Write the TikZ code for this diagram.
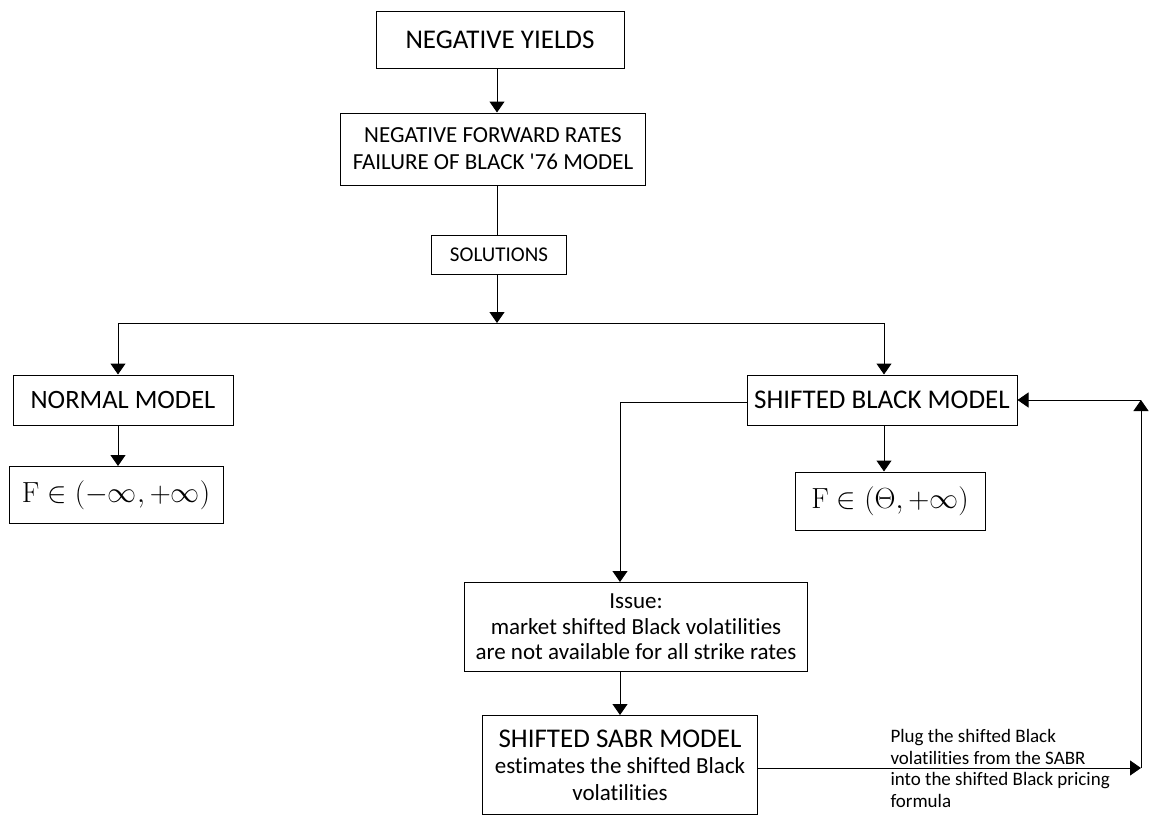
\documentclass[tikz,border=0pt]{standalone}
\usepackage[no-math]{fontspec}
\setmainfont[Ligatures={NoCommon}]{Carlito}
\usetikzlibrary{arrows.meta}

\begin{document}
\begin{tikzpicture}[x=1pt,y=-1pt,line width=1pt]
  \tikzstyle{box}=[draw,align=center,inner sep=2pt]
  \tikzstyle{arr}=[-{Triangle[width=15pt,length=11pt]}]
  \useasboundingbox (0,0) rectangle (1149,816);
  \node[box,minimum width=248,minimum height=57,font=\fontsize{27}{30}\selectfont] (yields) at (500,40) {NEGATIVE YIELDS};
  \node[box,minimum width=305,minimum height=72,font=\fontsize{23}{27}\selectfont] (fwd) at (493,149) {NEGATIVE FORWARD RATES\\FAILURE OF BLACK \textquotesingle 76 MODEL};
  \node[box,minimum width=135,minimum height=39,font=\fontsize{21}{24}\selectfont] (sol) at (499,255) {SOLUTIONS};
  \node[box,minimum width=220,minimum height=50,font=\fontsize{26.5}{30}\selectfont] (normal) at (123,400) {NORMAL MODEL};
  \node[box,minimum width=214,minimum height=57,font=\fontsize{24.88}{30}\selectfont] (fnormal) at (116,495) {\scalebox{1.17}{$\mathrm{F}\in(-\infty,+\infty)$}};
  \node[box,minimum width=270,minimum height=50,font=\fontsize{27}{30}\selectfont] (black) at (882,400) {SHIFTED BLACK MODEL};
  \node[box,minimum width=190,minimum height=58,font=\fontsize{24.88}{30}\selectfont] (fblack) at (890,501) {\scalebox{1.17}{$\mathrm{F}\in(\Theta,+\infty)$}};
  \node[box,minimum width=343,minimum height=89,font=\fontsize{23}{25.5}\selectfont] (issue) at (636,627) {Issue:\\market shifted Black volatilities\\are not available for all strike rates};
  \node[box,minimum width=275,minimum height=99,font=\fontsize{23}{26.5}\selectfont] (sabr) at (620,765) {{\fontsize{27}{26.5}\selectfont SHIFTED SABR MODEL}\\estimates the shifted Black\\volatilities};
  \node[anchor=north west,align=left,inner sep=0pt,font=\fontsize{19}{21.5}\selectfont] (plug) at (890,729) {Plug the shifted Black\\volatilities from the SABR\\into the shifted Black pricing\\formula};
  % junctions
  \coordinate (split) at (497,323);
  \coordinate (lj) at (118,323);
  \coordinate (rj) at (884,323);
  \coordinate (ij) at (620,402);
  \coordinate (c1) at (1141,768);
  \coordinate (c2) at (1141,400);
  \draw[arr] (yields.south -| 497,0) -- (497,0 |- fwd.north);
  \draw (497,0 |- fwd.south) -- (497,0 |- sol.north);
  \draw[arr] (497,0 |- sol.south) -- (split);
  \draw (lj) -- (rj);
  \draw[arr] (lj) -- (lj |- normal.north);
  \draw[arr] (rj) -- (rj |- black.north);
  \draw[arr] (lj |- normal.south) -- (lj |- fnormal.north);
  \draw[arr] (rj |- black.south) -- (rj |- fblack.north);
  \draw[arr] (black.west |- ij) -- (ij) -- (ij |- issue.north);
  \draw[arr] (ij |- issue.south) -- (ij |- sabr.north);
  \draw[arr] (sabr.east |- c1) -- (c1);
  \draw[arr] (c1) -- (c2);
  \draw[arr] (c2) -- (c2 -| black.east);
\end{tikzpicture}
\end{document}
